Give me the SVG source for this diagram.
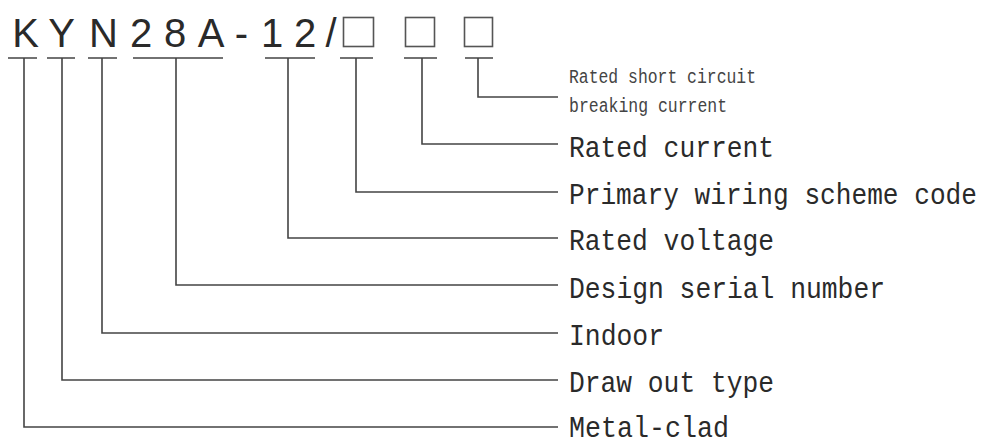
<svg xmlns="http://www.w3.org/2000/svg" width="987" height="441" viewBox="0 0 987 441">
<style>
.code{font-family:"Liberation Sans",Arial,sans-serif;font-size:40px;fill:#2a2a2a;text-anchor:middle}
.lbl{font-family:"Liberation Mono","DejaVu Sans Mono",monospace;font-size:29px;fill:#2a2a2a}
.sm{font-family:"Liberation Mono","DejaVu Sans Mono",monospace;font-size:20px;fill:#444}
.box{fill:none;stroke:#555;stroke-width:1.6}
.ln{fill:none;stroke:#444;stroke-width:1.6}
</style>
<rect width="987" height="441" fill="#fff"/>
<g id="code">
<text class="code" x="25.5 61.5 103.5 141 175 211 241.5 272 305 331" y="46.5">KYN28A-12/</text>
</g>
<g id="box1"><rect class="box" x="343.5" y="17.5" width="30" height="29"/></g>
<g id="box2"><rect class="box" x="405.5" y="17.5" width="29" height="29"/></g>
<g id="box3"><rect class="box" x="464.5" y="17.5" width="28" height="29"/></g>
<g id="connectors">
<path class="ln" d="M8 58H37M24 58V427H558"/>
<path class="ln" d="M47 58H75M62 58V380H558"/>
<path class="ln" d="M88 58H117M102 58V333H558"/>
<path class="ln" d="M133 58H223M176 58V285H558"/>
<path class="ln" d="M265 58H315M288 58V238H558"/>
<path class="ln" d="M340 58H373M356 58V192H558"/>
<path class="ln" d="M404 58H437M422 58V144H558"/>
<path class="ln" d="M465 58H493M478 58V97H558"/>
</g>
<g id="lbl-breaking">
<text class="sm" x="569" y="83" textLength="187" lengthAdjust="spacingAndGlyphs">Rated short circuit</text>
<text class="sm" x="569" y="112" textLength="158" lengthAdjust="spacingAndGlyphs">breaking current</text>
</g>
<g id="lbl-current"><text class="lbl" x="569" y="157" textLength="205" lengthAdjust="spacingAndGlyphs">Rated current</text></g>
<g id="lbl-wiring"><text class="lbl" x="569" y="204" textLength="408" lengthAdjust="spacingAndGlyphs">Primary wiring scheme code</text></g>
<g id="lbl-voltage"><text class="lbl" x="569" y="250" textLength="205" lengthAdjust="spacingAndGlyphs">Rated voltage</text></g>
<g id="lbl-serial"><text class="lbl" x="569" y="298" textLength="316" lengthAdjust="spacingAndGlyphs">Design serial number</text></g>
<g id="lbl-indoor"><text class="lbl" x="569" y="345" textLength="95" lengthAdjust="spacingAndGlyphs">Indoor</text></g>
<g id="lbl-drawout"><text class="lbl" x="569" y="392" textLength="205" lengthAdjust="spacingAndGlyphs">Draw out type</text></g>
<g id="lbl-metal"><text class="lbl" x="569" y="437" textLength="160" lengthAdjust="spacingAndGlyphs">Metal-clad</text></g>
</svg>
